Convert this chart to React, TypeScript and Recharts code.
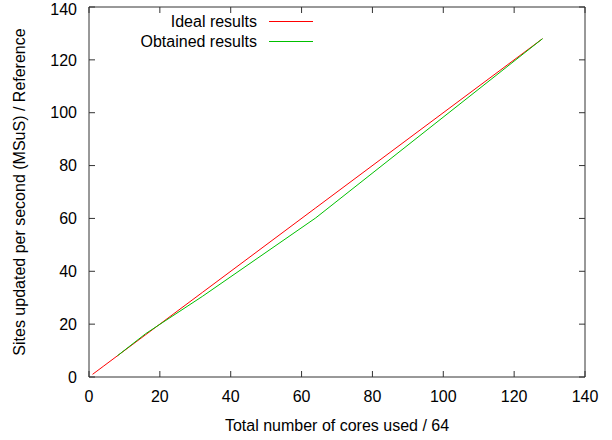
import { LineChart, Line, XAxis, YAxis, Legend } from 'recharts';

// cores used / 64
const cores = [1, 2, 4, 8, 16, 32, 64, 128];
const ideal = [1, 2, 4, 8, 16, 32, 64, 128];
const obtained: (number | null)[] = [null, null, null, 8, 16.4, 30.5, 60.2, 128];

const xTicks = [0, 20, 40, 60, 80, 100, 120, 140];
const yTicks = [0, 20, 40, 60, 80, 100, 120, 140];

const seriesNames = ['Ideal results', 'Obtained results'];
const seriesColors = ['#ff0000', '#00c000'];

const FONT = '"Liberation Sans", Arial, sans-serif';
const AXIS = '#333';

const chartData = cores.map((c, i) => ({ cores: c, ideal: ideal[i], obtained: obtained[i] }));

function renderLegend() {
    return (
        <svg width={612} height={60} style={{ display: 'block', overflow: 'visible' }}>
            {seriesNames.map((name, i) => (
                <g key={name}>
                    <text
                        x={257}
                        y={21 + i * 20}
                        textAnchor="end"
                        dominantBaseline="central"
                        fontFamily={FONT}
                        fontSize={16}
                        fill="#000"
                    >
                        {name}
                    </text>
                    <line x1={269} x2={313} y1={21.5 + i * 20} y2={21.5 + i * 20} stroke={seriesColors[i]} strokeWidth={1} />
                </g>
            ))}
        </svg>
    );
}

export default function App() {
    return (
        <div style={{ position: 'absolute', left: 0, top: 0, width: 612, height: 440, background: '#fff' }}>
            <LineChart width={612} height={440} data={chartData} margin={{ top: 6, right: 26, left: 0, bottom: 0 }}>
                <XAxis
                    dataKey="cores"
                    type="number"
                    domain={[0, 140]}
                    ticks={xTicks}
                    height={63}
                    stroke={AXIS}
                    tickSize={-6}
                    tickMargin={20}
                    tick={{ fill: '#000', fontSize: 16, fontFamily: FONT }}
                    label={{
                        content: () => (
                            <text x={337} y={425} textAnchor="middle" dominantBaseline="central" fontSize={16} fontFamily={FONT} fill="#000">
                                Total number of cores used / 64
                            </text>
                        ),
                    }}
                />
                <XAxis
                    xAxisId="top"
                    dataKey="cores"
                    orientation="top"
                    type="number"
                    domain={[0, 140]}
                    ticks={xTicks}
                    height={1}
                    stroke={AXIS}
                    tickSize={-6}
                    tickFormatter={() => ''}
                />
                <YAxis
                    type="number"
                    domain={[0, 140]}
                    ticks={yTicks}
                    width={89}
                    stroke={AXIS}
                    tickSize={-6}
                    tickMargin={18}
                    tick={{ fill: '#000', fontSize: 16, fontFamily: FONT }}
                    label={{
                        content: () => (
                            <text
                                x={19}
                                y={192}
                                transform="rotate(-90 19 192)"
                                textAnchor="middle"
                                dominantBaseline="central"
                                fontSize={16}
                                fontFamily={FONT}
                                fill="#000"
                            >
                                Sites updated per second (MSuS) / Reference
                            </text>
                        ),
                    }}
                />
                <YAxis
                    yAxisId="right"
                    orientation="right"
                    type="number"
                    domain={[0, 140]}
                    ticks={yTicks}
                    width={1}
                    stroke={AXIS}
                    tickSize={-6}
                    tickFormatter={() => ''}
                />
                <Legend
                    content={renderLegend}
                    wrapperStyle={{ position: 'absolute', left: 0, top: 0, width: 612, height: 0, overflow: 'visible' }}
                />
                {/* hidden series so the mirrored top/right axes are drawn */}
                <Line
                    xAxisId="top"
                    yAxisId="right"
                    dataKey="ideal"
                    stroke="none"
                    dot={false}
                    legendType="none"
                    isAnimationActive={false}
                />
                <Line
                    name={seriesNames[0]}
                    dataKey="ideal"
                    stroke={seriesColors[0]}
                    strokeWidth={1}
                    dot={false}
                    type="linear"
                    isAnimationActive={false}
                />
                <Line
                    name={seriesNames[1]}
                    dataKey="obtained"
                    stroke={seriesColors[1]}
                    strokeWidth={1}
                    dot={false}
                    type="linear"
                    connectNulls={false}
                    isAnimationActive={false}
                />
            </LineChart>
        </div>
    );
}
